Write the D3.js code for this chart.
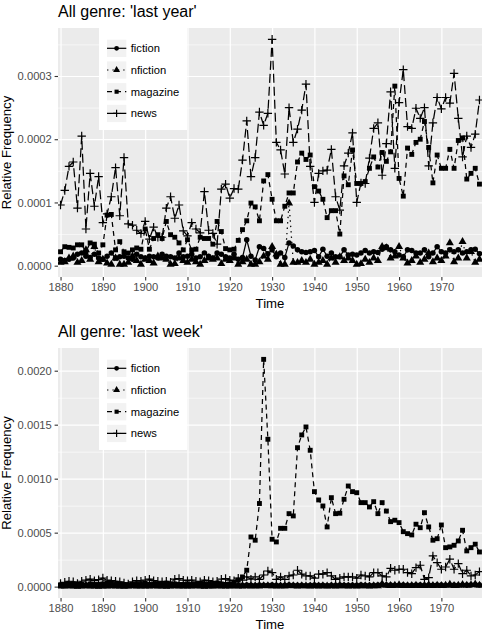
<!DOCTYPE html>
<html><head><meta charset="utf-8">
<script src="https://cdn.jsdelivr.net/npm/d3@7"></script>
<style>body{margin:0;background:#fff} text{font-family:"Liberation Sans",Arial,Helvetica,sans-serif}</style>
</head><body><svg id="c" width="488" height="636"></svg>
<script>
// ---------- DATA (values in units of 1e-4) ----------
const years = d3.range(1880, 1980);
const seriesNames = ["fiction", "nfiction", "magazine", "news"];
const xTickLabels = ["1880","1890","1900","1910","1920","1930","1940","1950","1960","1970"];
const yTickTop = ["0.0000","0.0001","0.0002","0.0003"];
const yTickBottom = ["0.0000","0.0005","0.0010","0.0015","0.0020"];
const unit = 1e-4;

const lastYearFiction = [
0.10,0.08,0.10,0.12,0.18,0.20,0.15,0.13,0.18,0.12,0.10,0.15,0.20,0.12,0.14,0.15,0.12,0.10,0.18,0.14,
0.12,0.15,0.14,0.12,0.18,0.15,0.14,0.12,0.20,0.14,0.15,0.18,0.12,0.14,0.20,0.15,0.12,0.20,0.18,0.14,
0.12,0.18,0.10,0.13,0.41,0.15,0.09,0.30,0.27,0.19,0.25,0.14,0.20,0.13,0.36,0.31,0.25,0.22,0.21,0.22,
0.24,0.14,0.26,0.15,0.20,0.14,0.14,0.25,0.17,0.18,0.17,0.20,0.24,0.20,0.22,0.21,0.26,0.30,0.25,0.22,
0.17,0.14,0.25,0.24,0.20,0.20,0.25,0.14,0.20,0.30,0.22,0.20,0.25,0.22,0.25,0.20,0.22,0.25,0.26,0.19];
const lastYearNfiction = [
0.05,0.06,0.12,0.15,0.05,0.08,0.25,0.10,0.30,0.06,0.10,0.04,0.02,0.12,0.02,0.02,0.05,0.15,0.08,0.02,
0.10,0.08,0.04,0.15,0.12,0.10,0.02,0.03,0.12,0.08,0.05,0.10,0.06,0.02,0.08,0.12,0.10,0.12,0.03,0.10,
0.08,0.12,0.02,0.06,0.10,0.02,0.02,0.06,0.15,0.10,0.30,0.18,0.02,0.02,0.99,0.05,0.05,0.08,0.05,0.10,
0.02,0.05,0.08,0.02,0.12,0.05,0.14,0.08,0.12,0.08,0.02,0.03,0.10,0.05,0.12,0.08,0.30,0.28,0.12,0.15,
0.30,0.12,0.04,0.08,0.15,0.05,0.10,0.20,0.06,0.12,0.08,0.15,0.36,0.06,0.12,0.38,0.12,0.22,0.05,0.10];
const lastYearMagazine = [
0.22,0.30,0.29,0.28,0.33,0.33,0.22,0.36,0.34,0.20,
0.33,0.80,0.81,0.25,0.38,0.22,0.20,0.25,0.28,0.26,
0.58,0.26,0.43,0.49,0.43,0.70,0.49,0.45,0.36,0.25,
0.41,0.25,0.26,0.45,0.43,0.43,0.34,0.70,0.54,0.27,
0.25,0.26,0.40,0.57,0.71,0.99,0.93,0.71,1.34,1.44,
1.05,0.71,0.71,0.94,1.15,1.15,1.64,1.78,1.68,1.75,
1.25,1.18,1.05,0.76,0.87,0.87,0.50,1.42,1.28,1.83,
1.30,1.30,1.33,1.54,1.72,1.56,1.79,1.65,1.80,2.84,
1.38,1.10,1.86,1.76,1.95,2.00,2.28,1.87,1.31,1.75,
1.54,1.54,1.84,1.54,1.98,2.02,1.37,1.46,1.54,1.29];
const lastYearNews = [
0.96,1.19,1.57,1.64,0.91,2.05,0.58,1.46,0.94,1.41,
0.68,0.82,1.09,1.55,0.79,1.71,0.66,0.64,0.56,0.51,
0.70,0.42,0.61,0.45,0.45,0.91,1.09,0.75,0.96,0.55,
0.47,0.68,0.58,0.52,1.17,0.56,0.51,0.34,1.21,1.29,
1.07,1.22,1.21,1.67,2.29,1.41,1.71,2.43,2.22,2.41,
3.58,1.95,1.83,1.45,2.50,1.95,2.16,2.46,2.87,1.57,
1.00,1.46,1.50,1.51,1.84,1.09,0.88,1.58,1.78,2.10,
1.00,1.31,1.30,1.70,2.17,2.26,1.43,1.93,2.75,1.54,
2.58,3.10,2.20,2.17,2.49,2.33,2.50,1.58,2.26,2.66,
2.48,2.66,2.57,3.04,2.33,1.72,2.05,1.87,2.08,2.62];

const lastWeekFiction = [
0.12,0.10,0.15,0.12,0.10,0.14,0.12,0.15,0.12,0.10,0.13,0.12,0.15,0.12,0.10,0.12,0.14,0.12,0.10,0.13,
0.12,0.15,0.12,0.10,0.12,0.14,0.12,0.15,0.13,0.12,0.10,0.12,0.14,0.12,0.15,0.12,0.10,0.13,0.12,0.14,
0.12,0.10,0.13,0.12,0.15,0.12,0.10,0.14,0.12,0.13,0.15,0.12,0.10,0.12,0.14,0.12,0.13,0.12,0.10,0.12,
0.14,0.12,0.13,0.10,0.12,0.12,0.14,0.12,0.13,0.12,0.12,0.14,0.12,0.13,0.12,0.14,0.18,0.15,0.14,0.13,
0.12,0.14,0.13,0.12,0.14,0.15,0.13,0.14,0.12,0.15,0.14,0.13,0.15,0.14,0.13,0.15,0.14,0.16,0.18,0.15];
const lastWeekNfiction = [
0.05,0.04,0.06,0.05,0.03,0.05,0.06,0.04,0.05,0.03,0.05,0.04,0.06,0.05,0.04,0.03,0.05,0.06,0.04,0.05,
0.04,0.05,0.06,0.04,0.05,0.03,0.05,0.06,0.04,0.05,0.05,0.04,0.06,0.05,0.03,0.05,0.04,0.06,0.05,0.04,
0.05,0.06,0.04,0.05,0.07,0.05,0.06,0.05,0.08,0.06,0.07,0.05,0.06,0.05,0.10,0.06,0.05,0.07,0.06,0.05,
0.06,0.05,0.07,0.05,0.06,0.05,0.07,0.06,0.05,0.06,0.05,0.06,0.07,0.05,0.06,0.07,0.25,0.12,0.10,0.12,
0.15,0.10,0.08,0.10,0.12,0.08,0.10,0.14,0.10,0.12,0.10,0.12,0.20,0.10,0.12,0.18,0.12,0.15,0.22,0.12];
const lastWeekMagazine = [
0.15,0.20,0.20,0.25,0.20,0.20,0.15,0.25,0.20,0.20,
0.25,0.30,0.30,0.20,0.25,0.20,0.15,0.20,0.20,0.20,
0.30,0.20,0.25,0.25,0.20,0.30,0.25,0.25,0.20,0.20,
0.25,0.20,0.20,0.25,0.25,0.25,0.20,0.30,0.25,0.20,
0.25,0.30,0.60,0.90,1.52,4.60,4.30,7.70,21.05,13.65,
4.39,4.14,5.40,5.40,6.76,6.55,12.87,14.05,14.79,12.63,
8.80,8.03,7.47,5.53,8.24,6.76,6.80,8.09,9.32,8.80,
8.70,7.78,7.78,7.38,7.87,6.76,7.78,7.00,6.02,6.15,
5.93,5.09,4.91,4.79,5.78,5.46,6.85,5.53,4.30,4.44,
5.71,3.61,3.68,3.83,4.23,5.22,3.31,3.61,3.93,3.21];
const lastWeekNews = [
0.30,0.40,0.50,0.45,0.30,0.50,0.60,0.70,0.55,0.65,
0.80,0.60,0.55,0.50,0.45,0.35,0.25,0.45,0.55,0.50,
0.60,0.70,0.55,0.50,0.45,0.50,0.40,0.70,0.75,0.60,
0.55,0.60,0.50,0.45,0.60,0.55,0.45,0.50,0.70,0.75,
0.60,0.55,0.78,0.60,0.90,0.70,0.90,0.68,1.08,1.45,
1.30,0.68,0.90,0.68,0.99,1.08,1.52,1.15,0.99,0.99,
0.78,1.15,1.15,1.30,0.99,0.68,0.78,0.90,0.90,0.90,
0.78,1.08,0.99,0.90,1.30,1.30,0.99,0.90,1.70,1.52,
1.61,1.61,1.30,1.20,1.76,1.98,0.68,0.83,2.84,2.22,
1.61,1.82,2.54,1.61,2.13,1.20,1.52,0.99,1.08,1.39];

// ---------- STYLE ----------
const styles = {
  fiction:  {shape: "circle",   dash: null},
  nfiction: {shape: "triangle", dash: "1.4,4"},
  magazine: {shape: "square",   dash: "5,4"},
  news:     {shape: "plus",     dash: "9,4"}
};
const svg = d3.select("#c");
const symBig = {
  circle: d3.symbol(d3.symbolCircle, 24),
  triangle: d3.symbol(d3.symbolTriangle, 28),
  square: d3.symbol(d3.symbolSquare, 24)
};
const symSmall = {
  circle: d3.symbol(d3.symbolCircle, 18),
  triangle: d3.symbol(d3.symbolTriangle, 21),
  square: d3.symbol(d3.symbolSquare, 17)
};
function drawMarker(sel, shape, cx, cy, big) {
  if (shape === "plus") {
    const r = big ? 4.2 : 3.6;
    sel.append("path").attr("d", `M${cx-r},${cy}H${cx+r}M${cx},${cy-r}V${cy+r}`)
      .attr("stroke", "#000").attr("stroke-width", 1.2).attr("fill", "none");
  } else {
    const gen = big ? symBig : symSmall;
    sel.append("path").attr("d", gen[shape]()).attr("transform", `translate(${cx},${cy})`)
      .attr("fill", "#000");
  }
}

let clipId = 0;
function drawPanel(p) {
  const L = 58, R = 482, T = p.top, B = p.bottom;
  const all = p.series.flatMap(s => s.values);
  const lo = Math.min(0, d3.min(all)), hi = d3.max(all), pad = (hi - lo) * 0.05;
  const x = d3.scaleLinear().domain([1879.4, 1979.6]).range([L, R]);
  const y = d3.scaleLinear().domain([lo - pad, hi + pad]).range([B, T]);
  const g = svg.append("g");
  g.append("rect").attr("x", L).attr("y", T).attr("width", R - L).attr("height", B - T).attr("fill", "#EBEBEB");

  const majors = p.yLabels.map(s => +s / unit);
  const step = majors[1] - majors[0];
  const [d0, d1] = y.domain();
  const minors = [majors[0] - step / 2, ...majors.map(v => v + step / 2)].filter(v => v > d0 && v < d1);
  const xTicks = xTickLabels.map(Number);

  const grid = (axis, w) => {
    const gg = g.append("g").call(axis);
    gg.select(".domain").remove();
    gg.selectAll("line").attr("stroke", "#fff").attr("stroke-width", w);
    gg.selectAll("text").remove();
  };
  grid(g => g.attr("transform", `translate(${L},0)`).call(d3.axisLeft(y).tickValues(minors).tickSize(-(R - L))), 0.6);
  grid(g => g.attr("transform", `translate(${L},0)`).call(d3.axisLeft(y).tickValues(majors).tickSize(-(R - L))), 1.2);
  grid(g => g.attr("transform", `translate(0,${B})`).call(d3.axisBottom(x).tickValues(xTicks).tickSize(-(B - T))), 1.2);

  const id = "clip" + (clipId++);
  svg.append("clipPath").attr("id", id).append("rect").attr("x", L).attr("y", T).attr("width", R - L).attr("height", B - T);
  const marks = g.append("g").attr("clip-path", `url(#${id})`);
  const line = d3.line().x((d, i) => x(years[i])).y(d => y(d));
  p.series.forEach(s => {
    marks.append("path").datum(s.values).attr("d", line).attr("fill", "none")
      .attr("stroke", "#000").attr("stroke-width", 1.25)
      .attr("stroke-dasharray", styles[s.name].dash);
  });
  p.series.forEach(s => {
    const gs = marks.append("g");
    s.values.forEach((v, i) => drawMarker(gs, styles[s.name].shape, x(years[i]), y(v), true));
  });

  // axes
  const ya = g.append("g").attr("transform", `translate(${L},0)`)
    .call(d3.axisLeft(y).tickValues(majors).tickFormat((d, i) => p.yLabels[i]).tickSize(3.4).tickPadding(2.8));
  const xa = g.append("g").attr("transform", `translate(0,${B})`)
    .call(d3.axisBottom(x).tickValues(xTicks).tickFormat((d, i) => xTickLabels[i]).tickSize(3.4).tickPadding(2.8));
  [ya, xa].forEach(a => {
    a.select(".domain").remove();
    a.selectAll("line").attr("stroke", "#333").attr("stroke-width", 1.1);
    a.selectAll("text").attr("fill", "#4D4D4D").attr("font-size", "11.2px")
      .attr("font-family", '"Liberation Sans",Arial,sans-serif');
  });

  // titles
  g.append("text").attr("x", L).attr("y", T - 11).attr("font-size", "16px").attr("fill", "#000").text(p.title);
  g.append("text").attr("x", (L + R) / 2).attr("y", B + 30.5).attr("text-anchor", "middle")
    .attr("font-size", "13.2px").attr("fill", "#000").text("Time");
  g.append("text").attr("transform", `translate(11,${(T + B) / 2}) rotate(-90)`).attr("text-anchor", "middle")
    .attr("font-size", "13.2px").attr("fill", "#000").text("Relative Frequency");

  // legend
  const lg = g.append("g");
  lg.append("rect").attr("x", 99).attr("y", T).attr("width", 88).attr("height", 102).attr("fill", "#fff");
  p.series.forEach((s, i) => {
    const cy = T + 20.3 + i * 21.7;
    lg.append("rect").attr("x", 107).attr("y", cy - 8.6).attr("width", 19.3).attr("height", 17.3).attr("fill", "#F2F2F2");
    lg.append("line").attr("x1", 107).attr("x2", 126.3).attr("y1", cy).attr("y2", cy)
      .attr("stroke", "#000").attr("stroke-width", 1.2).attr("stroke-dasharray", styles[s.name].dash);
    drawMarker(lg, styles[s.name].shape, 116.6, cy, false);
    lg.append("text").attr("x", 130.7).attr("y", cy).attr("dy", "0.35em").attr("font-size", "11.2px")
      .attr("fill", "#000").text(s.name);
  });
}

drawPanel({top: 28, bottom: 277, title: "All genre: 'last year'", yLabels: yTickTop,
  series: [
    {name: seriesNames[0], values: lastYearFiction},
    {name: seriesNames[1], values: lastYearNfiction},
    {name: seriesNames[2], values: lastYearMagazine},
    {name: seriesNames[3], values: lastYearNews}]});
drawPanel({top: 348, bottom: 598, title: "All genre: 'last week'", yLabels: yTickBottom,
  series: [
    {name: seriesNames[0], values: lastWeekFiction},
    {name: seriesNames[1], values: lastWeekNfiction},
    {name: seriesNames[2], values: lastWeekMagazine},
    {name: seriesNames[3], values: lastWeekNews}]});
</script></body></html>
